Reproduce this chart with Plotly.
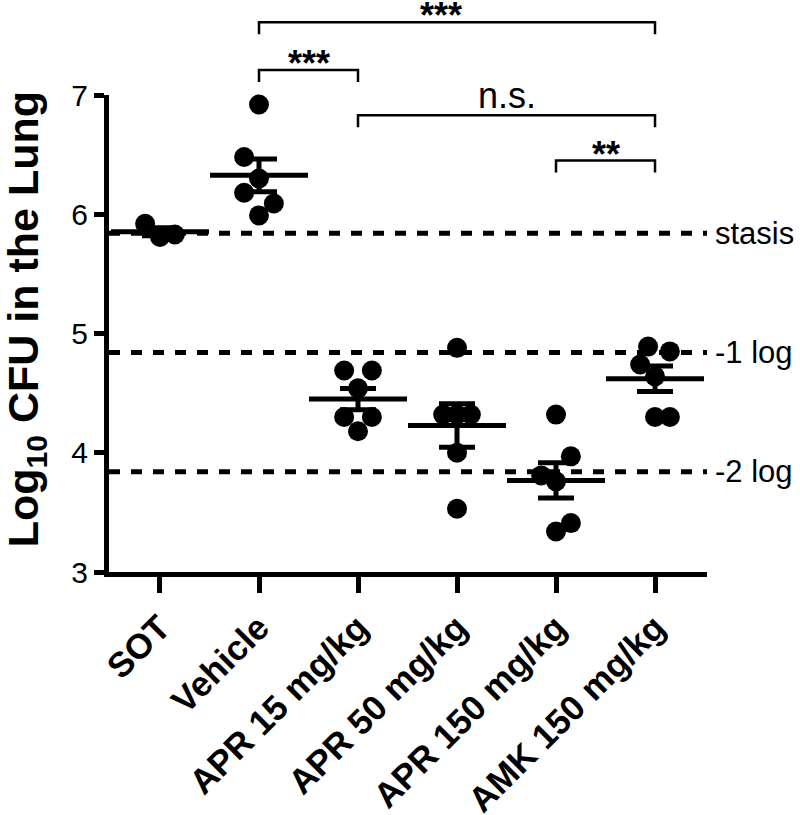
import numpy as np
import plotly.graph_objects as go

# ---------------- data ----------------
groups = ["SOT", "Vehicle", "APR 15 mg/kg", "APR 50 mg/kg", "APR 150 mg/kg", "AMK 150 mg/kg"]

sot = [5.92, 5.81, 5.83]
vehicle = [6.92, 6.48, 6.30, 6.18, 6.09, 5.99]
apr15 = [4.69, 4.69, 4.54, 4.30, 4.30, 4.18]
apr50 = [4.88, 4.32, 4.32, 4.32, 4.00, 3.53]
apr150 = [4.32, 3.97, 3.81, 3.76, 3.41, 3.34]
amk150 = [4.89, 4.85, 4.74, 4.64, 4.30, 4.30]
values = [sot, vehicle, apr15, apr50, apr150, amk150]

# horizontal scatter (beeswarm-style) offsets, in category units
jitter = [
    [-0.15, 0.0, 0.15],
    [0.0, -0.15, 0.0, -0.15, 0.15, 0.0],
    [-0.14, 0.14, 0.0, -0.14, 0.14, 0.0],
    [0.0, -0.14, 0.0, 0.14, 0.0, 0.0],
    [0.0, 0.15, -0.15, 0.0, 0.15, 0.0],
    [-0.07, 0.15, -0.15, 0.0, 0.0, 0.15],
]

ref_levels = [5.84, 4.84, 3.84]
ref_labels = ["stasis", "-1 log", "-2 log"]

# significance brackets: (from group, to group, label, level in log10 units)
brackets = [
    (1, 5, "***", 7.61),
    (1, 2, "***", 7.21),
    (2, 5, "n.s.", 6.83),
    (4, 5, "**", 6.45),
]
bracket_text_dx = [-16, 0, 0, 0]

ytick_vals = [3, 4, 5, 6, 7]
y_range = [3, 7]
x_range = [-0.515, 5.525]
y_title = "Log<sub>10</sub> CFU in the Lung"

FONT = "Liberation Sans, Arial, sans-serif"

fig = go.Figure()

# individual points
for i, (vals, jit) in enumerate(zip(values, jitter)):
    fig.add_trace(go.Scatter(
        x=[i + d for d in jit], y=vals, mode="markers",
        marker=dict(symbol="circle", size=20, color="black", line=dict(width=0)),
        showlegend=False, hoverinfo="skip", cliponaxis=False,
    ))

# mean +/- SEM
means = [float(np.mean(v)) for v in values]
sems = [float(np.std(v, ddof=1) / np.sqrt(len(v))) for v in values]
fig.add_trace(go.Scatter(
    x=list(range(len(groups))), y=means, mode="markers",
    marker=dict(symbol="line-ew", size=70, color="black", line=dict(width=5, color="black")),
    error_y=dict(type="data", array=sems, visible=True, color="black", thickness=5, width=18),
    showlegend=False, hoverinfo="skip", cliponaxis=False,
))

shapes = []
annotations = []

# dashed reference lines
for lvl, lab in zip(ref_levels, ref_labels):
    shapes.append(dict(type="line", xref="x", yref="y", x0=x_range[0], x1=x_range[1],
                       y0=lvl, y1=lvl, line=dict(color="black", width=5, dash="11px,11px")))
    annotations.append(dict(x=1, xref="paper", y=lvl, yref="y", text=lab, showarrow=False,
                            xanchor="left", yanchor="middle", xshift=6,
                            font=dict(family=FONT, size=31, color="black")))

# brackets (drawn in paper y so they can sit above the axis range)
def ypaper(v):
    return (v - y_range[0]) / (y_range[1] - y_range[0])

drop = 0.10
for (a, b, lab, lvl), dx in zip(brackets, bracket_text_dx):
    path = "M {a},{y1} L {a},{y0} L {b},{y0} L {b},{y1}".format(
        a=a, b=b, y0=ypaper(lvl), y1=ypaper(lvl - drop))
    shapes.append(dict(type="path", xref="x", yref="paper", path=path,
                       line=dict(color="black", width=2.5)))
    is_star = "*" in lab
    annotations.append(dict(x=(a + b) / 2, xref="x", y=ypaper(lvl), yref="paper",
                            text=lab, showarrow=False, xanchor="center", yanchor="bottom",
                            xshift=dx, yshift=-16 if is_star else -3,
                            font=dict(family=FONT, size=36, color="black",
                                      weight="bold" if is_star else "normal")))

# y-axis title as a rotated annotation
annotations.append(dict(x=0, xref="paper", y=0.53, yref="paper", text=y_title,
                        textangle=-90, showarrow=False, xanchor="center", yanchor="middle",
                        xshift=-83,
                        font=dict(family=FONT, size=43, color="black", weight="bold")))

fig.update_layout(
    width=800, height=815,
    margin=dict(l=109, r=93, t=95, b=243, autoexpand=False),
    paper_bgcolor="white", plot_bgcolor="white",
    shapes=shapes, annotations=annotations,
    showlegend=False,
    xaxis=dict(
        range=x_range, tickmode="array", tickvals=list(range(len(groups))), ticktext=groups,
        tickangle=-45, showline=True, linewidth=5, linecolor="black", mirror=False,
        ticks="outside", ticklen=16, tickwidth=5, tickcolor="black",
        tickfont=dict(family=FONT, size=35, color="black", weight="bold"),
        showgrid=False, zeroline=False, ticklabelstandoff=0, automargin=False,
    ),
    yaxis=dict(
        range=y_range, tickmode="array", tickvals=ytick_vals,
        showline=True, linewidth=5, linecolor="black", mirror=False,
        ticks="outside", ticklen=10, tickwidth=5, tickcolor="black",
        tickfont=dict(family=FONT, size=30, color="black"),
        showgrid=False, zeroline=False, automargin=False,
    ),
)

fig.write_html("out.html", config={"displayModeBar": False},
               post_script="document.body.style.margin='0';document.body.style.padding='0';")
